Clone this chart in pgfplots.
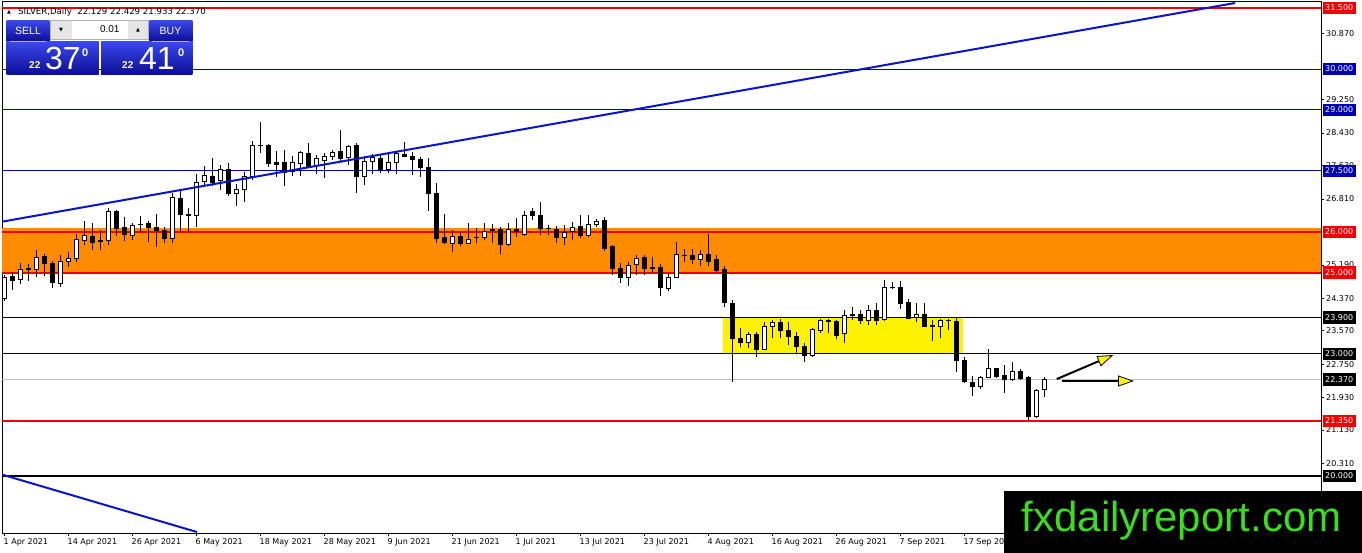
\documentclass[border=0pt]{standalone}
\usepackage{fontspec}
\setmainfont{DejaVu Sans}
\newfontfamily\panelfont{Liberation Sans}
\usepackage{pgfplots}
\pgfplotsset{compat=1.18}
\usepackage{pgfplotstable}
\usetikzlibrary{arrows.meta}

\definecolor{zoneorange}{HTML}{FF8C00}
\definecolor{lineblue}{HTML}{0000B0}
\definecolor{trendblue}{HTML}{0A14C8}
\definecolor{linered}{HTML}{F00000}
\definecolor{bidgray}{HTML}{C0C0C0}
\definecolor{logogreen}{HTML}{3CDC1E}
\definecolor{btntop}{HTML}{3A48E8}
\definecolor{btnbot}{HTML}{0C0C96}

% daily candles, i = bar index from 1 Apr 2021
\pgfplotstableread{
i o h l c
0 24.35 24.95 24.30 24.89
1 24.91 25.02 24.57 24.81
2 24.83 25.24 24.72 25.08
3 25.10 25.22 24.80 25.07
4 25.08 25.55 24.90 25.37
5 25.39 25.45 24.92 25.21
6 25.23 25.28 24.63 24.76
7 24.73 25.43 24.65 25.28
8 25.27 25.51 25.14 25.35
9 25.35 25.95 25.27 25.80
10 25.78 26.27 25.67 25.90
11 25.88 26.21 25.55 25.73
12 25.77 26.04 25.55 25.78
13 25.78 26.58 25.67 26.49
14 26.49 26.54 25.90 26.08
15 26.10 26.36 25.78 25.94
16 25.91 26.22 25.80 26.16
17 26.17 26.40 26.00 26.18
18 26.21 26.26 25.76 26.11
19 26.11 26.43 25.63 26.03
20 26.03 26.13 25.73 25.83
21 25.83 26.95 25.73 26.85
22 26.82 27.03 26.00 26.43
23 26.42 26.58 26.00 26.41
24 26.40 27.41 26.11 27.21
25 27.24 27.61 27.12 27.39
26 27.37 27.81 27.12 27.22
27 27.26 27.64 27.04 27.54
28 27.54 27.68 26.89 26.95
29 26.95 27.17 26.64 27.03
30 27.03 27.46 26.74 27.35
31 27.35 28.23 27.27 28.11
32 28.11 28.70 27.93 28.12
33 28.13 28.17 27.60 27.67
34 27.71 27.99 27.34 27.66
35 27.70 28.00 27.12 27.46
36 27.49 27.86 27.37 27.70
37 27.68 27.99 27.37 27.94
38 27.93 28.19 27.56 27.60
39 27.63 27.89 27.42 27.79
40 27.76 27.94 27.33 27.86
41 27.85 28.01 27.76 27.96
42 27.98 28.50 27.72 27.81
43 27.83 28.13 27.64 28.09
44 28.11 28.18 26.96 27.35
45 27.37 27.86 27.15 27.74
46 27.72 27.91 27.42 27.83
47 27.81 27.89 27.44 27.54
48 27.54 27.94 27.44 27.71
49 27.70 27.99 27.42 27.93
50 27.91 28.21 27.84 27.85
51 27.85 27.97 27.40 27.78
52 27.78 27.83 27.35 27.58
53 27.58 27.81 26.52 26.93
54 26.93 27.21 25.72 25.84
55 25.86 26.44 25.69 25.73
56 25.72 26.05 25.51 25.88
57 25.88 26.00 25.64 25.72
58 25.72 26.22 25.69 25.82
59 25.86 26.10 25.73 25.87
60 25.86 26.22 25.80 26.00
61 26.04 26.19 25.72 26.05
62 26.05 26.13 25.45 25.70
63 25.70 26.21 25.64 26.06
64 26.06 26.33 25.88 26.00
65 25.94 26.52 25.90 26.41
66 26.50 26.58 26.29 26.39
67 26.41 26.73 25.92 26.07
68 26.09 26.17 25.92 26.08
69 26.06 26.15 25.73 25.86
70 25.86 26.16 25.67 25.98
71 26.00 26.23 25.81 26.11
72 26.14 26.41 25.86 25.90
73 25.90 26.41 25.88 26.18
74 26.18 26.31 26.11 26.26
75 26.29 26.37 25.53 25.59
76 25.63 25.67 24.94 25.10
77 25.10 25.23 24.75 24.88
78 24.88 25.27 24.68 25.18
79 25.20 25.43 24.94 25.35
80 25.36 25.43 24.94 25.10
81 25.12 25.39 24.98 25.11
82 25.13 25.21 24.42 24.63
83 24.61 24.98 24.55 24.88
84 24.88 25.76 24.88 25.45
85 25.41 25.57 25.27 25.42
86 25.43 25.57 25.21 25.31
87 25.31 25.55 25.17 25.45
88 25.45 25.94 25.17 25.27
89 25.32 25.43 25.02 25.06
90 25.08 25.16 24.15 24.26
91 24.24 24.33 22.30 23.37
92 23.38 23.63 23.17 23.27
93 23.27 23.55 23.15 23.48
94 23.48 23.55 22.93 23.11
95 23.11 23.79 23.11 23.67
96 23.68 23.83 23.38 23.77
97 23.77 23.87 23.40 23.57
98 23.57 23.79 23.22 23.42
99 23.44 23.55 23.03 23.18
100 23.18 23.28 22.81 22.95
101 22.95 23.63 22.92 23.59
102 23.57 23.87 23.51 23.81
103 23.80 23.87 23.52 23.82
104 23.79 23.83 23.36 23.46
105 23.49 24.08 23.27 23.94
106 23.97 24.16 23.83 23.94
107 23.97 24.08 23.73 23.81
108 23.81 24.20 23.71 24.06
109 24.06 24.24 23.71 23.83
110 23.85 24.82 23.81 24.64
111 24.64 24.76 24.59 24.63
112 24.63 24.79 24.10 24.24
113 24.27 24.36 23.85 23.87
114 23.89 24.26 23.79 23.97
115 23.97 24.26 23.67 23.67
116 23.69 23.83 23.32 23.68
117 23.67 23.87 23.38 23.81
118 23.81 23.87 23.59 23.82
119 23.79 23.91 22.56 22.83
120 22.85 22.92 22.28 22.32
121 22.30 22.45 21.97 22.19
122 22.19 22.45 22.14 22.42
123 22.42 23.11 22.40 22.63
124 22.64 22.66 22.42 22.44
125 22.46 22.74 22.05 22.36
126 22.36 22.81 22.34 22.57
127 22.56 22.64 22.36 22.40
128 22.42 22.46 21.38 21.46
129 21.46 22.15 21.42 22.11
130 22.129 22.429 21.933 22.370
}\candles

\begin{document}
\begin{tikzpicture}
\fill[white] (0pt,0pt) rectangle (1362pt,553pt);
\begin{axis}[
  at={(2pt,20pt)}, anchor=south west,
  x=8pt, y=40.696pt,
  xmin=-0.25, xmax=164.625, ymin=18.6, ymax=31.672,
  enlargelimits=false,
  axis line style={black, line width=0.9pt},
  tick align=outside,
  major tick length=3pt,
  tick style={black, line width=0.6pt},
  xtick pos=left, ytick pos=right, yticklabel pos=right,
  xtick={0,8,...,128},
  xticklabels={1 Apr 2021, 14 Apr 2021, 26 Apr 2021, 6 May 2021, 18 May 2021,
    28 May 2021, 9 Jun 2021, 21 Jun 2021, 1 Jul 2021, 13 Jul 2021, 23 Jul 2021,
    4 Aug 2021, 16 Aug 2021, 26 Aug 2021, 7 Sep 2021, 17 Sep 2021, 29 Sep 2021},
  ytick={20.31,21.13,21.93,22.75,23.57,24.37,25.19,26.81,27.63,28.43,29.25,30.87},
  yticklabels={20.310,21.130,21.930,22.750,23.570,24.370,25.190,26.810,27.630,28.430,29.250,30.870},
  yticklabel style={anchor=west, inner sep=1pt, xshift=1pt, font=\fontsize{8}{9}\selectfont},
  xticklabel style={anchor=north west, inner sep=1pt, xshift=-1.5pt, yshift=-1pt, font=\fontsize{8}{9}\selectfont},
]
% zones
\addplot[fill=zoneorange, draw=none] coordinates {(-1,25) (-1,26.1) (170,26.1) (170,25)} -- cycle;
\addplot[fill=yellow, draw=none] coordinates {(89.9,23.0) (89.9,23.9) (119.9,23.9) (119.9,23.0)} -- cycle;

% horizontal levels
\addplot[linered, line width=1.8pt] coordinates {(-1,31.5) (170,31.5)};
\addplot[lineblue, line width=0.9pt] coordinates {(-1,30) (170,30)};
\addplot[lineblue, line width=0.9pt] coordinates {(-1,29) (170,29)};
\addplot[lineblue, line width=0.9pt] coordinates {(-1,27.5) (170,27.5)};
\addplot[linered, line width=2pt] coordinates {(-1,26) (170,26)};
\addplot[linered, line width=2pt] coordinates {(-1,25) (170,25)};
\addplot[black, line width=0.9pt] coordinates {(-1,23.9) (170,23.9)};
\addplot[black, line width=0.9pt] coordinates {(-1,23) (170,23)};
\addplot[bidgray, line width=0.9pt] coordinates {(-1,22.37) (170,22.37)};
\addplot[linered, line width=1.8pt] coordinates {(-1,21.35) (170,21.35)};
\addplot[black, line width=2.4pt] coordinates {(-1,20) (170,20)};

% wicks
\addplot[draw=none, mark=none,
  error bars/.cd, y dir=plus, y explicit, error mark=none,
  error bar style={draw=black, line width=1pt}]
  table[x=i, y=l, y error expr=\thisrow{h}-\thisrow{l}] {\candles};
% bodies (outline / black fill)
\addplot[draw=none, mark=none,
  error bars/.cd, y dir=plus, y explicit, error mark=none,
  error bar style={draw=black, line width=5pt}]
  table[x=i, y expr={min(\thisrow{o},\thisrow{c})-0.0123},
        y error expr={abs(\thisrow{c}-\thisrow{o})+0.0246}] {\candles};
% white inside of up candles
\addplot[draw=none, mark=none,
  restrict expr to domain={\thisrow{c}-\thisrow{o}}{0.02:100},
  error bars/.cd, y dir=plus, y explicit, error mark=none,
  error bar style={draw=white, line width=3pt}]
  table[x=i, y expr={\thisrow{o}+0.0123},
        y error expr={max(\thisrow{c}-\thisrow{o}-0.0246,0)}] {\candles};

% trend lines
\addplot[trendblue, line width=2pt] coordinates {(-0.5,26.241) (153.875,31.623)};
\addplot[trendblue, line width=2pt] coordinates {(-0.5,20.05) (24.125,18.624)};

% arrows
\addplot[black, line width=2pt, -{Triangle[length=16pt,width=11pt,fill=yellow,line width=0.8pt]}]
  coordinates {(131.6,22.384) (138.66,22.973)};
\addplot[black, line width=2pt, -{Triangle[length=16pt,width=11pt,fill=yellow,line width=0.8pt]}]
  coordinates {(132.2,22.335) (141.25,22.335)};

% anchors for price tags on the right scale
\coordinate (t1) at (axis cs:164.625,31.5);
\coordinate (t2) at (axis cs:164.625,30);
\coordinate (t3) at (axis cs:164.625,29);
\coordinate (t4) at (axis cs:164.625,27.5);
\coordinate (t5) at (axis cs:164.625,26);
\coordinate (t6) at (axis cs:164.625,25);
\coordinate (t7) at (axis cs:164.625,23.9);
\coordinate (t8) at (axis cs:164.625,23);
\coordinate (t9) at (axis cs:164.625,22.37);
\coordinate (t10) at (axis cs:164.625,21.35);
\coordinate (t11) at (axis cs:164.625,20);
\end{axis}

% price tags
\tikzset{tag/.style={anchor=west, text=white, inner xsep=2.5pt, inner ysep=0pt,
  minimum height=12.5pt, font=\fontsize{8}{9}\selectfont, xshift=1.5pt}}
\node[tag, fill=linered] at (t1) {31.500};
\node[tag, fill=lineblue] at (t2) {30.000};
\node[tag, fill=lineblue] at (t3) {29.000};
\node[tag, fill=lineblue] at (t4) {27.500};
\node[tag, fill=linered] at (t5) {26.000};
\node[tag, fill=linered] at (t6) {25.000};
\node[tag, fill=black] at (t7) {23.900};
\node[tag, fill=black] at (t8) {23.000};
\node[tag, fill=black] at (t9) {22.370};
\node[tag, fill=linered] at (t10) {21.350};
\node[tag, fill=black] at (t11) {20.000};

% header and one-click trading panel
\node[anchor=base, inner sep=0pt, font=\fontsize{5}{5}\selectfont] at (9pt,539pt) {▲};
\node[anchor=base west, inner sep=0pt, font=\fontsize{8.6}{10}\selectfont] at (18pt,538.5pt)
  {SILVER,Daily\ \ 22.129 22.429 21.933 22.370};
\shade[top color=btntop, bottom color=btnbot] (6.7pt,511.3pt) rectangle (49.3pt,532.3pt);
\shade[top color=btntop, bottom color=btnbot] (149.3pt,511.3pt) rectangle (192.3pt,532.3pt);
\shade[top color=btntop, bottom color=btnbot] (6.7pt,478pt) rectangle (98.7pt,511pt);
\shade[top color=btntop, bottom color=btnbot] (101pt,478pt) rectangle (192.3pt,511pt);
\draw[white!70!blue, line width=0.6pt] (10pt,512pt) -- (46pt,512pt);
\draw[white!70!blue, line width=0.6pt] (152pt,512pt) -- (189pt,512pt);
\fill[gray!20] (50.7pt,513.7pt) rectangle (71.7pt,532.3pt);
\fill[white] (71.7pt,513.7pt) rectangle (128.3pt,532.3pt);
\fill[gray!20] (128.3pt,513.7pt) rectangle (148pt,532.3pt);
\draw[gray!60, line width=0.5pt] (50.7pt,513.7pt) rectangle (148pt,532.3pt);
\node[font=\fontsize{5}{5}\selectfont] at (61pt,523pt) {▼};
\node[font=\fontsize{5}{5}\selectfont] at (138pt,523pt) {▲};
\node[anchor=east, font=\panelfont\fontsize{10}{10}\selectfont] at (123pt,523.5pt) {0.01};
\node[text=white, font=\panelfont\fontsize{10.5}{11}\selectfont] at (28pt,522.5pt) {SELL};
\node[text=white, font=\panelfont\fontsize{10.5}{11}\selectfont] at (170.5pt,522.5pt) {BUY};
\node[anchor=base west, inner sep=0pt, text=white, font=\panelfont\bfseries\fontsize{10}{10}\selectfont] at (29pt,484pt) {22};
\node[anchor=base west, inner sep=0pt, text=white, font=\panelfont\fontsize{32}{32}\selectfont] at (45pt,483pt) {37};
\node[anchor=base west, inner sep=0pt, text=white, font=\panelfont\bfseries\fontsize{11}{11}\selectfont] at (82pt,496pt) {0};
\node[anchor=base west, inner sep=0pt, text=white, font=\panelfont\bfseries\fontsize{10}{10}\selectfont] at (122pt,484pt) {22};
\node[anchor=base west, inner sep=0pt, text=white, font=\panelfont\fontsize{32}{32}\selectfont] at (139pt,483pt) {41};
\node[anchor=base west, inner sep=0pt, text=white, font=\panelfont\bfseries\fontsize{11}{11}\selectfont] at (178pt,496pt) {0};

% logo
\fill[black] (1004pt,0pt) rectangle (1362pt,62pt);
\node[anchor=base, inner sep=0pt, text=logogreen, font=\panelfont\fontsize{42}{42}\selectfont]
  at (1181.5pt,21.3pt) {fxdailyreport.com};

\pgfresetboundingbox
\useasboundingbox (0pt,0pt) rectangle (1362pt,553pt);
\end{tikzpicture}
\end{document}
